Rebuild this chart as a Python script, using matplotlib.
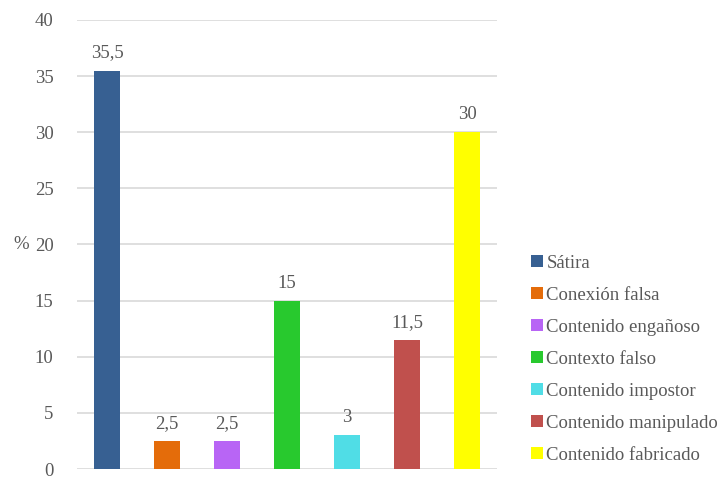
import matplotlib
matplotlib.use("Agg")
import matplotlib.pyplot as plt
from matplotlib.patches import Patch

categories = ["Sátira", "Conexión falsa", "Contenido engañoso", "Contexto falso",
              "Contenido impostor", "Contenido manipulado", "Contenido fabricado"]
values = [35.5, 2.5, 2.5, 15, 3, 11.5, 30]
labels = ["35,5", "2,5", "2,5", "15", "3", "11,5", "30"]
colors = ["#376092", "#E46C0A", "#B865F5", "#28C92E", "#50DDE6", "#C0504D", "#FFFF00"]
yticks = [0, 5, 10, 15, 20, 25, 30, 35, 40]

plt.rcParams['font.family'] = ['Liberation Serif', 'DejaVu Serif']
txt = "#595959"

fig = plt.figure(figsize=(7.24, 4.78), dpi=100)
ax = fig.add_axes([77/724, 9/478, 420/724, 449/478])

x = list(range(len(values)))
ax.bar(x, values, width=0.42, color=colors, zorder=3)
for xi, v, lab in zip(x, values, labels):
    ax.text(xi, v + 0.8, lab, ha="center", va="bottom", fontsize=13.5, color=txt)

ax.set_xlim(-0.5, len(values) - 0.5)
ax.set_ylim(0, 40)
ax.set_yticks(yticks)
ax.set_yticklabels([str(t) for t in yticks], fontsize=13.5, color=txt)
ax.set_xticks([])
ax.grid(axis="y", color="#D9D9D9", linewidth=1.2, zorder=0)
for s in ax.spines.values():
    s.set_visible(False)
ax.tick_params(axis="y", length=0, pad=17)
ax.set_ylabel("%", fontsize=13.5, color=txt, rotation=0, labelpad=10, va="center")

handles = [Patch(facecolor=c, edgecolor="none") for c in colors]
fig.legend(handles, categories, loc="upper left", bbox_to_anchor=(523/724, 1 - 247/478),
           frameon=False, fontsize=13.5, labelcolor=txt, handlelength=0.65, handleheight=0.65,
           handletextpad=0.2, labelspacing=0.8, borderaxespad=0)

fig.savefig("out.png", dpi=100)
